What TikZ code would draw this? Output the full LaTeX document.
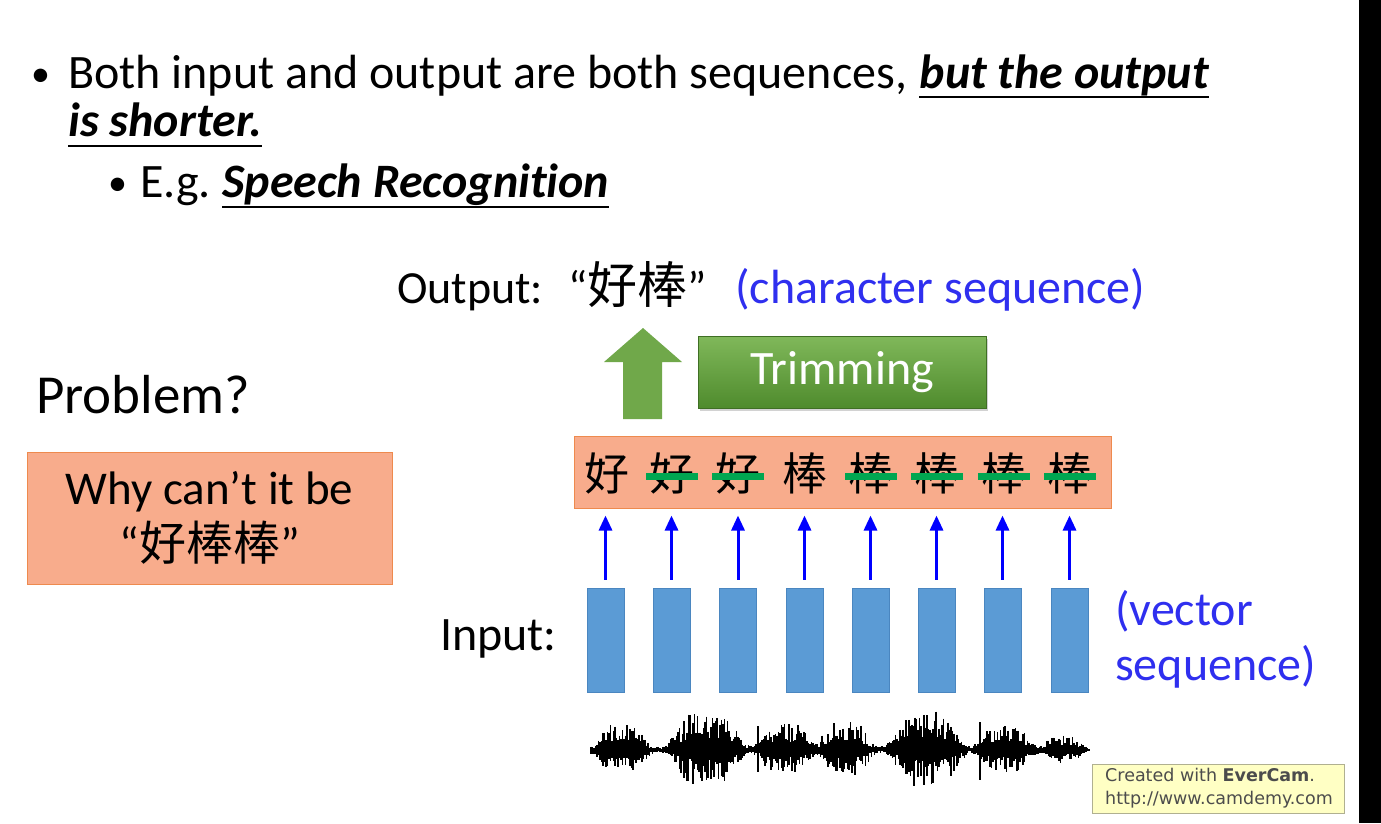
\documentclass[tikz,border=0pt]{standalone}
\usepackage{fontspec}
\setmainfont{Carlito}[Ligatures=CommonOff]
\newfontfamily\cjk{Noto Sans CJK TC}
\newfontfamily\dvs{DejaVu Sans}
\usetikzlibrary{shadows,arrows.meta}
\definecolor{orfill}{HTML}{F8AC8C}
\definecolor{ordraw}{HTML}{EE8A4E}
\definecolor{vecblue}{HTML}{5B9BD5}
\definecolor{vecdraw}{HTML}{4A86C0}
\definecolor{txtblue}{HTML}{2F2FEF}
\definecolor{agreen}{HTML}{70A84A}
\definecolor{gtop}{HTML}{80B85A}
\definecolor{gbot}{HTML}{4F8B2D}
\definecolor{strikegreen}{HTML}{00A651}
\definecolor{ecfill}{HTML}{FFFFC4}
\definecolor{ecdraw}{HTML}{B0B090}
\begin{document}
\begin{tikzpicture}[x=1pt,y=-1pt,
  txt/.style={inner sep=0pt, anchor=base west, font=\fontsize{48}{56}\selectfont},
  txtbi/.style={txt, font=\fontsize{48}{56}\selectfont\bfseries\itshape},
  bulsty/.style={inner sep=0pt, anchor=base west, font=\fontsize{38}{40}\selectfont},
  mtxt/.style={inner sep=0pt, anchor=base west, font=\fontsize{46}{52}\selectfont},
  btxt/.style={inner sep=0pt, anchor=base west, font=\fontsize{48}{54}\selectfont, text=txtblue},
  ul/.style={line width=2.6pt, black},
  orbox/.style={draw=ordraw, fill=orfill, line width=1pt, inner sep=0pt},
  chr/.style={inner sep=0pt, font=\fontsize{45}{46}\selectfont\cjk},
  strike/.style={line width=7pt, strikegreen},
  vec/.style={draw=vecdraw, fill=vecblue, line width=0.8pt, minimum width=37pt, minimum height=104pt, inner sep=0pt},
  barrow/.style={draw=blue, line width=3pt, -{Triangle[length=15pt,width=13pt]}},
  trimbox/.style={top color=gtop, bottom color=gbot, draw=gbot!80!black, line width=0.5pt,
    drop shadow={shadow xshift=2pt, shadow yshift=-3pt, opacity=0.35},
    minimum width=288pt, minimum height=72pt, inner sep=0pt, text=white, font=\fontsize{48}{52}\selectfont},
  wave/.style={line width=1.6pt, black},
  declare function={tt(\x,\c,\w)=min(2.1,abs((\x-\c)/\w));
    gs(\x,\c,\w)=exp(-tt(\x,\c,\w)*tt(\x,\c,\w)*tt(\x,\c,\w)*tt(\x,\c,\w));
    env(\x)=3+24*gs(\x,622,24)+36*gs(\x,706,32)+24*gs(\x,785,25)+26*gs(\x,845,24)+36*gs(\x,927,32)+22*gs(\x,1005,25)+12*gs(\x,1063,18);}
]
\useasboundingbox[fill=white] (0,0) rectangle (1381,823);
\fill[black] (1359,0) rectangle (1381,823);

% title lines
\node[bulsty] (bul1) at (31,86) {•};
\node[txt] (l1a) at (68,88) {Both input and output are both sequences,};
\node[txtbi] (l1b) at ([xshift=12pt]l1a.base east) {but the output};
\draw[ul] ([yshift=-9pt]l1b.base west) -- ([yshift=-9pt]l1b.base east);
\node[txtbi] (l2) at (68,136) {is shorter.};
\draw[ul] ([yshift=-10pt]l2.base west) -- ([yshift=-10pt]l2.base east);
\node[bulsty] (bul2) at (108,195) {•};
\node[txt] (eg) at (140,197) {E.g.};
\node[txtbi] (sr) at ([xshift=11pt]eg.base east) {Speech Recognition};
\draw[ul] ([yshift=-10pt]sr.base west) -- ([yshift=-10pt]sr.base east);

% problem
\node[inner sep=0pt, anchor=base west, font=\fontsize{55}{60}\selectfont] (prob) at (36,413) {Problem?};
\node[orbox, minimum width=365pt, minimum height=132pt, align=center, font=\fontsize{47}{56}\selectfont] (why) at (209.5,518)
  {Why can’t it be\\“{\cjk 好棒棒}”};

% output
\node[mtxt] (outl) at (397,303) {Output:};
\node[mtxt] (outq) at (568,303) {“{\fontsize{50}{52}\cjk 好棒}”};
\node[btxt] (outc) at (735,303) {(character sequence)};

% trimming
\node[trimbox] (trim) at (842,372) {Trimming};
\fill[agreen] (623,419) -- (662,419) -- (662,362) -- (682,362) -- (643,328) -- (604,362) -- (623,362) -- cycle;

% strip
\node[orbox, minimum width=537pt, minimum height=72pt] (strip) at (842.5,472) {};
\node[chr] (c1) at (607,473) {好};
\node[chr] (c2) at (672,473) {好};
\node[chr] (c3) at (738,473) {好};
\node[chr] (c4) at (805,473) {棒};
\node[chr] (c5) at (871,473) {棒};
\node[chr] (c6) at (937,473) {棒};
\node[chr] (c7) at (1004,473) {棒};
\node[chr] (c8) at (1070,473) {棒};
\foreach \c in {c2,c3,c5,c6,c7,c8}{
  \draw[strike] ([xshift=-3pt,yshift=-3pt]\c.west) -- ([xshift=3pt,yshift=-3pt]\c.east);
}

% vectors
\foreach \i/\x in {1/605.5,2/671.5,3/738,4/804.5,5/870.5,6/936.5,7/1002.5,8/1069.5}{
  \node[vec] (v\i) at (\x,640) {};
  \draw[barrow] ([yshift=8pt]v\i.north) -- ([yshift=-7pt]v\i.north |- strip.south);
}
\node[btxt, text=black] (inl) at (440,650) {Input:};
\node[btxt] (vs1) at (1115,625) {(vector};
\node[btxt] (vs2) at (1115,680) {sequence)};

% waveform
\pgfmathsetseed{11}
\draw[wave] (590,750) -- (1089,750);
\foreach \i in {0,...,332}{
  \pgfmathsetmacro\xx{591+1.5*\i}
  \pgfmathsetmacro\e{env(\xx)}
  \pgfmathsetmacro\up{\e*(0.3+0.7*rnd)}
  \pgfmathsetmacro\dn{\e*(0.25+0.65*rnd)}
  \draw[wave] (\xx,750-\up) -- (\xx,750+\dn);
}
\draw[wave] (758,726) -- (758,772);
\draw[wave] (980,722) -- (980,780);
\draw[wave] (693,738) -- (693,784);
\draw[wave] (914,738) -- (914,786);

% evercam
\node[draw=ecdraw, fill=ecfill, line width=1pt, minimum width=252pt, minimum height=49pt, inner sep=0pt] (ec) at (1218,788.5) {};
\node[anchor=west, align=left, inner sep=0pt, font=\fontsize{17.5}{23}\dvs, text=black!70] (ect) at (1105,788.5)
  {Created with {\bfseries EverCam}.\\http://www.camdemy.com};
\end{tikzpicture}
\end{document}
